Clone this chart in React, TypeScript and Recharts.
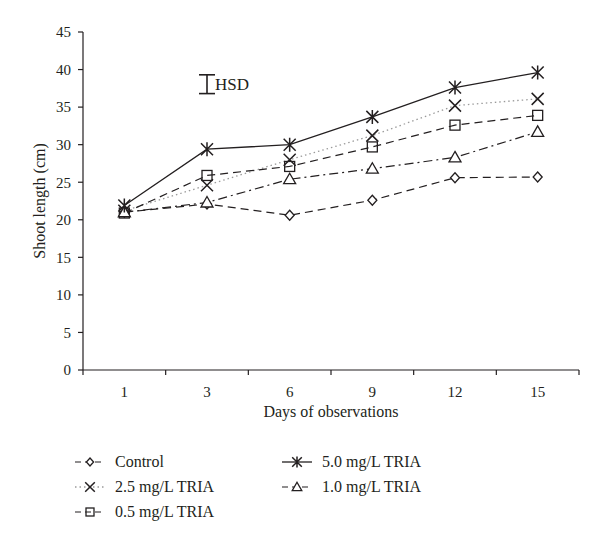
import React from "react";
import { ComposedChart, Line, XAxis, YAxis, ErrorBar, Legend } from "recharts";

const days = ["1", "3", "6", "9", "12", "15"];
const control = [21.0, 22.1, 20.6, 22.6, 25.6, 25.7];
const tria25 = [21.2, 24.6, 28.0, 31.2, 35.2, 36.1];
const tria05 = [20.9, 25.9, 27.1, 29.7, 32.6, 33.9];
const tria50 = [21.9, 29.4, 30.0, 33.7, 37.6, 39.6];
const tria10 = [21.0, 22.3, 25.4, 26.8, 28.3, 31.7];
const yTicks = [0, 5, 10, 15, 20, 25, 30, 35, 40, 45];

const hsdDay = "3";
const hsdMid = 38.05;
const hsdHalf = 1.25;

const data = days.map((d, i) => ({
  day: d,
  control: control[i],
  t25: tria25[i],
  t05: tria05[i],
  t50: tria50[i],
  t10: tria10[i],
  hsd: d === hsdDay ? hsdMid : null,
  hsdErr: d === hsdDay ? hsdHalf : null,
}));

const FONT = "'Liberation Serif', 'DejaVu Serif', serif";
const INK = "#231f20";

type Kind = "diamond" | "x" | "square" | "triangle" | "star";

const series: {
  key: string;
  name: string;
  kind: Kind;
  dash?: string;
  color: string;
  width: number;
}[] = [
  { key: "control", name: "Control", kind: "diamond", dash: "8 5", color: INK, width: 1.2 },
  { key: "t25", name: "2.5 mg/L TRIA", kind: "x", dash: "1.5 3", color: "#9a9a9a", width: 1.3 },
  { key: "t05", name: "0.5 mg/L TRIA", kind: "square", dash: "8 5", color: INK, width: 1.2 },
  { key: "t10", name: "1.0 mg/L TRIA", kind: "triangle", dash: "9 4 2 4", color: INK, width: 1.2 },
  { key: "t50", name: "5.0 mg/L TRIA", kind: "star", color: INK, width: 1.3 },
];

const legendOrder = ["control", "t50", "t25", "t10", "t05"];

function Marker({ kind, cx, cy, k = 1 }: { kind: Kind; cx: number; cy: number; k?: number }) {
  const s = INK;
  const sw = 1.3;
  switch (kind) {
    case "diamond":
      return (
        <path
          d={`M${cx},${cy - 5 * k}L${cx + 4.5 * k},${cy}L${cx},${cy + 5 * k}L${cx - 4.5 * k},${cy}Z`}
          fill="#fff"
          stroke={s}
          strokeWidth={sw}
        />
      );
    case "x":
      return (
        <path
          d={`M${cx - 6 * k},${cy - 6 * k}L${cx + 6 * k},${cy + 6 * k}M${cx - 6 * k},${cy + 6 * k}L${cx + 6 * k},${cy - 6 * k}`}
          fill="none"
          stroke={s}
          strokeWidth={1.5}
        />
      );
    case "square":
      return (
        <rect x={cx - 5 * k} y={cy - 5 * k} width={10 * k} height={10 * k} fill="none" stroke={s} strokeWidth={sw} />
      );
    case "triangle":
      return (
        <path
          d={`M${cx},${cy - 6 * k}L${cx + 6 * k},${cy + 4.5 * k}L${cx - 6 * k},${cy + 4.5 * k}Z`}
          fill="#fff"
          stroke={s}
          strokeWidth={sw}
        />
      );
    case "star":
    default:
      return (
        <path
          d={`M${cx - 6 * k},${cy - 6 * k}L${cx + 6 * k},${cy + 6 * k}M${cx - 6 * k},${cy + 6 * k}L${cx + 6 * k},${cy - 6 * k}M${cx},${cy - 7 * k}L${cx},${cy + 7 * k}`}
          fill="none"
          stroke={s}
          strokeWidth={1.5}
        />
      );
  }
}

function XTick(props: any) {
  const { x, y, payload, index, visibleTicksCount } = props;
  const off = payload && typeof payload.offset === "number" ? payload.offset : 41;
  const axisY = y - 5;
  const isLast = index === (visibleTicksCount ?? days.length) - 1;
  return (
    <g>
      <line x1={x - off} x2={x - off} y1={axisY} y2={axisY + 5} stroke={INK} strokeWidth={1.2} />
      {isLast && (
        <line x1={x + off} x2={x + off} y1={axisY} y2={axisY + 5} stroke={INK} strokeWidth={1.2} />
      )}
      <text x={x} y={y + 22} textAnchor="middle" fontSize={15} fill={INK} fontFamily={FONT}>
        {payload.value}
      </text>
    </g>
  );
}

function LegendContent() {
  const items = legendOrder.map((k) => series.find((s) => s.key === k)!);
  return (
    <div
      style={{
        display: "grid",
        gridTemplateColumns: "207px 220px",
        paddingLeft: 67,
        fontFamily: FONT,
        fontSize: 16,
        color: INK,
      }}
    >
      {items.map((s) => (
        <div key={s.key} style={{ display: "flex", alignItems: "center", height: 25 }}>
          <svg width={32} height={16} style={{ marginRight: 8 }}>
            <line
              x1={0}
              x2={30}
              y1={8}
              y2={8}
              stroke={s.color}
              strokeWidth={s.width}
              strokeDasharray={s.key === "t25" ? "1.5 3" : s.dash ? "6 4" : undefined}
            />
            <Marker kind={s.kind} cx={15} cy={8} k={0.8} />
          </svg>
          <span style={{ whiteSpace: "nowrap" }}>{s.name}</span>
        </div>
      ))}
    </div>
  );
}

function hsdDot(p: any) {
  if (p.value == null || p.cy == null || isNaN(p.cy)) return <g key={`hsd-${p.index}`} />;
  return (
    <text key={`hsd-${p.index}`} x={p.cx + 8} y={p.cy + 6} fontSize={17} fill={INK} fontFamily={FONT}>
      HSD
    </text>
  );
}

export default function App() {
  return (
    <ComposedChart
      width={584}
      height={530}
      data={data}
      margin={{ top: 24, right: 13, left: 0, bottom: 118 }}
      style={{ fontFamily: FONT }}
    >
      <XAxis
        dataKey="day"
        type="category"
        scale="band"
        allowDuplicatedCategory={false}
        height={50}
        tickLine={false}
        tickSize={5}
        tickMargin={0}
        axisLine={{ stroke: INK, strokeWidth: 1.2 }}
        tick={<XTick />}
        interval={0}
        label={{
          value: "Days of observations",
          position: "insideBottom",
          offset: 3,
          fontSize: 16,
          fill: INK,
          fontFamily: FONT,
        }}
      />
      <XAxis
        xAxisId="top"
        dataKey="day"
        scale="band"
        orientation="top"
        height={0}
        tick={false}
        tickLine={false}
        axisLine={{ stroke: INK, strokeWidth: 1.2 }}
      />
      <YAxis
        domain={[0, 45]}
        ticks={yTicks}
        type="number"
        width={75}
        tickSize={5}
        tickMargin={7}
        interval={0}
        axisLine={{ stroke: INK, strokeWidth: 1.2 }}
        tickLine={{ stroke: INK, strokeWidth: 1.2 }}
        tick={{ fontSize: 15, fill: INK, fontFamily: FONT }}
        label={{
          value: "Shoot length (cm)",
          angle: -90,
          position: "center",
          dx: -6,
          fontSize: 16,
          fill: INK,
          fontFamily: FONT,
        }}
      />
      <YAxis
        yAxisId="right"
        orientation="right"
        width={0}
        tick={false}
        tickLine={false}
        axisLine={{ stroke: INK, strokeWidth: 1.2 }}
      />
      {series.map((s) => (
        <Line
          key={s.key}
          dataKey={s.key}
          name={s.name}
          type="linear"
          stroke={s.color}
          strokeWidth={s.width}
          strokeDasharray={s.dash}
          isAnimationActive={false}
          dot={(p: any) => <Marker key={`${s.key}-${p.index}`} kind={s.kind} cx={p.cx} cy={p.cy} />}
          activeDot={false}
          legendType="none"
        />
      ))}
      <Line
        dataKey="hsd"
        stroke="none"
        isAnimationActive={false}
        dot={hsdDot}
        activeDot={false}
        legendType="none"
      >
        <ErrorBar dataKey="hsdErr" direction="y" width={8} stroke={INK} strokeWidth={1.6} />
      </Line>
      <Legend
        layout="horizontal"
        verticalAlign="middle"
        align="center"
        content={<LegendContent />}
        wrapperStyle={{ top: 441, left: 0, width: 584 }}
      />
    </ComposedChart>
  );
}
